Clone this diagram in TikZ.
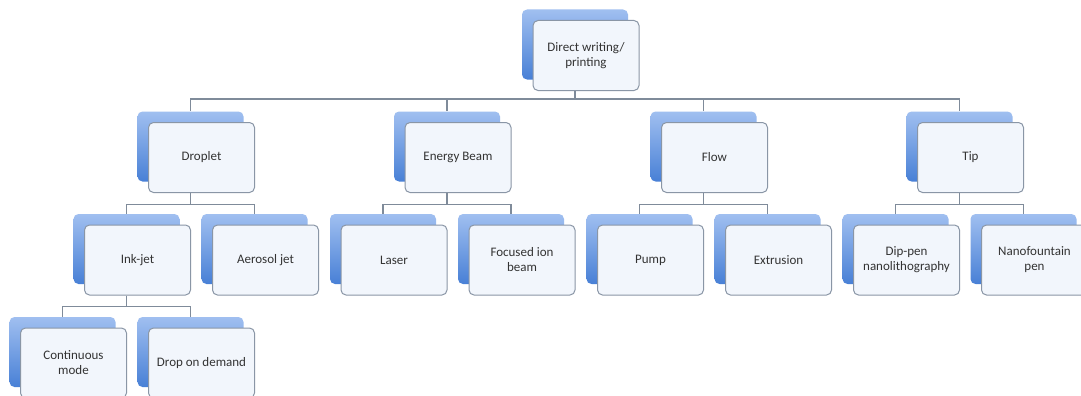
\documentclass[tikz,border=0pt]{standalone}
\usepackage{fontspec}
\setmainfont{Carlito}
\definecolor{boxline}{HTML}{8A96A6}
\definecolor{boxfill}{HTML}{F2F6FC}
\definecolor{bluetop}{HTML}{A0BFF0}
\definecolor{bluebot}{HTML}{4880D6}
\definecolor{linkcol}{HTML}{7F8B9A}
\definecolor{txt}{HTML}{333333}
\begin{document}
\begin{tikzpicture}[x=1pt,y=1pt,
    back/.style={rounded corners=5pt,minimum width=106pt,minimum height=70pt,inner sep=0pt,top color=bluetop,bottom color=bluebot},
    card/.style={draw=boxline,line width=1pt,fill=boxfill,rounded corners=5pt,minimum width=106pt,minimum height=70pt,inner sep=2pt,align=center,text=txt,font=\fontsize{13}{15}\selectfont},
    link/.style={draw=linkcol,line width=1.2pt}]
  \useasboundingbox (0,0) rectangle (1081,-396);
  \fill[white] (0,0) rectangle (1081,-396);

  \coordinate (bar1) at (0,-99);
  \coordinate (bar2) at (0,-204.5);
  \coordinate (bar3) at (0,-306.5);

  % top
  \node[back] (rootb) at (575,-44.5) {};
  \node[card] (root) at ([shift={(11,-11)}]rootb) {Direct writing/\\printing};

  % first level
  \node[back] (dropb) at (190.5,-146.5) {};
  \node[card] (drop) at ([shift={(11,-11)}]dropb) {Droplet};
  \node[back] (enerb) at (447,-146.5) {};
  \node[card] (ener) at ([shift={(11,-11)}]enerb) {Energy Beam};
  \node[back] (flowb) at (703.5,-146.5) {};
  \node[card] (flow) at ([shift={(11,-11)}]flowb) {Flow};
  \node[back] (tipb) at (959.5,-146.5) {};
  \node[card] (tip) at ([shift={(11,-11)}]tipb) {Tip};

  % second level
  \node[back] (inkb) at (126.5,-249) {};
  \node[card] (ink) at ([shift={(11,-11)}]inkb) {Ink-jet};
  \node[back] (aerob) at (254.5,-249) {};
  \node[card] (aero) at ([shift={(11,-11)}]aerob) {Aerosol jet};
  \node[back] (laserb) at (383,-249) {};
  \node[card] (laser) at ([shift={(11,-11)}]laserb) {Laser};
  \node[back] (fibb) at (511,-249) {};
  \node[card] (fib) at ([shift={(11,-11)}]fibb) {Focused ion\\beam};
  \node[back] (pumpb) at (639.5,-249) {};
  \node[card] (pump) at ([shift={(11,-11)}]pumpb) {Pump};
  \node[back] (extrb) at (767.5,-249) {};
  \node[card] (extr) at ([shift={(11,-11)}]extrb) {Extrusion};
  \node[back] (dipb) at (895.5,-249) {};
  \node[card] (dip) at ([shift={(11,-11)}]dipb) {Dip-pen\\nanolithography};
  \node[back] (nanob) at (1023.5,-249) {};
  \node[card] (nano) at ([shift={(11,-11)}]nanob) {Nanofountain\\pen};

  % third level
  \node[back] (contb) at (62.5,-352) {};
  \node[card] (cont) at ([shift={(11,-11)}]contb) {Continuous\\mode};
  \node[back] (dodb) at (190.5,-352) {};
  \node[card] (dod) at ([shift={(11,-11)}]dodb) {Drop on demand};

  \draw[link] (rootb |- root.south) -- (rootb |- bar1) -| (dropb.north);
  \draw[link] (rootb |- root.south) -- (rootb |- bar1) -| (enerb.north);
  \draw[link] (rootb |- root.south) -- (rootb |- bar1) -| (flowb.north);
  \draw[link] (rootb |- root.south) -- (rootb |- bar1) -| (tipb.north);

  \draw[link] (dropb |- drop.south) -- (dropb |- bar2) -| (inkb.north);
  \draw[link] (dropb |- drop.south) -- (dropb |- bar2) -| (aerob.north);
  \draw[link] (enerb |- ener.south) -- (enerb |- bar2) -| (laserb.north);
  \draw[link] (enerb |- ener.south) -- (enerb |- bar2) -| (fibb.north);
  \draw[link] (flowb |- flow.south) -- (flowb |- bar2) -| (pumpb.north);
  \draw[link] (flowb |- flow.south) -- (flowb |- bar2) -| (extrb.north);
  \draw[link] (tipb |- tip.south) -- (tipb |- bar2) -| (dipb.north);
  \draw[link] (tipb |- tip.south) -- (tipb |- bar2) -| (nanob.north);

  \draw[link] (inkb |- ink.south) -- (inkb |- bar3) -| (contb.north);
  \draw[link] (inkb |- ink.south) -- (inkb |- bar3) -| (dodb.north);
\end{tikzpicture}
\end{document}
